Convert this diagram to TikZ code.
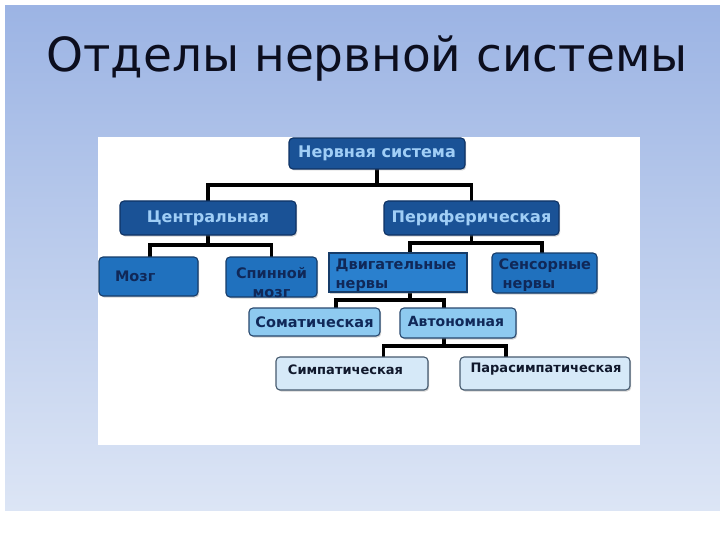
\documentclass[tikz,border=0pt]{standalone}
\usepackage{fontspec}
\setmainfont{DejaVu Sans}
\usetikzlibrary{calc,shadows}
\pgfdeclarelayer{bg}
\pgfdeclarelayer{lines}
\pgfsetlayers{bg,lines,main}
\definecolor{bgtop}{RGB}{156,180,228}
\definecolor{bgbot}{RGB}{220,229,245}
\definecolor{dkfill}{RGB}{26,82,150}
\definecolor{dkline}{RGB}{14,50,100}
\definecolor{dktext}{RGB}{160,206,246}
\definecolor{mdfill}{RGB}{32,113,190}
\definecolor{dvfill}{RGB}{42,128,206}
\definecolor{mdline}{RGB}{22,60,105}
\definecolor{navy}{RGB}{16,40,88}
\definecolor{ltfill}{RGB}{142,202,240}
\definecolor{ltline}{RGB}{40,72,110}
\definecolor{vlfill}{RGB}{214,233,248}
\definecolor{vlline}{RGB}{70,90,110}
\definecolor{vltext}{RGB}{16,24,44}
\definecolor{titletext}{RGB}{12,14,30}
\tikzset{
  boxbase/.style={inner sep=0pt, font=\bfseries, line width=1.1pt,
    drop shadow={shadow xshift=1.2pt, shadow yshift=-1.5pt, opacity=0.35}},
  dkbox/.style={boxbase, rounded corners=4pt, fill=dkfill, draw=dkline, text=dktext,
    font=\fontsize{16}{19}\selectfont\bfseries},
  mdbox/.style={boxbase, rounded corners=4pt, fill=mdfill, draw=mdline, text=navy,
    font=\fontsize{14.5}{19}\selectfont\bfseries},
  dvbox/.style={boxbase, fill=dvfill, draw=mdline, text=navy,
    font=\fontsize{14.5}{18}\selectfont\bfseries},
  ltbox/.style={boxbase, rounded corners=4pt, fill=ltfill, draw=ltline, text=navy,
    font=\fontsize{14.5}{18}\selectfont\bfseries},
  vlbox/.style={boxbase, rounded corners=4pt, fill=vlfill, draw=vlline, text=vltext,
    font=\fontsize{13}{16}\selectfont\bfseries},
  txt/.style={inner sep=0pt, text=navy, font=\fontsize{14.5}{18.5}\selectfont\bfseries},
  conn/.style={line width=3.2pt, black, line cap=rect}
}
\begin{document}
\begin{tikzpicture}[x=1pt,y=-1pt]
\useasboundingbox (0,0) rectangle (720,540);
\begin{pgfonlayer}{bg}
\fill[white] (0,0) rectangle (720,540);
\shade[top color=bgtop, bottom color=bgbot] (5,6) rectangle (720,510);
\fill[white] (98,137) rectangle (640,445);
\end{pgfonlayer}
\node[inner sep=0pt, font=\fontsize{47}{50}\selectfont, text=titletext] (title) at (367,59) {Отделы нервной системы};

% junction points
\coordinate (j1) at (377,185);
\coordinate (j2) at (208,245);
\coordinate (j3) at (471.5,243);
\coordinate (j4) at (410,300);
\coordinate (j5) at (444,346);

% level 1
\node[dkbox, minimum width=176pt, minimum height=31pt] (ns) at (377,153.5) {Нервная система};
% level 2
\node[dkbox, minimum width=176pt, minimum height=34pt] (cen) at (208,218) {Центральная};
\node[dkbox, minimum width=175pt, minimum height=34pt] (per) at (471.5,218) {Периферическая};
% level 3
\node[mdbox, minimum width=99pt, minimum height=39pt, text width=67pt, align=left] (moz) at (148.5,276.5) {Мозг};
\node[mdbox, minimum width=91pt, minimum height=40pt] (spm) at (271.5,277) {};
\node[txt, align=center] (spmt) at ($(spm.center)+(0,5.5)$) {Спинной\\мозг};
\node[dvbox, minimum width=138pt, minimum height=39pt] (dvn) at (398,272.5) {};
\node[txt, align=left, anchor=west] (dvnt) at ($(dvn.west)+(7,2.5)$) {Двигательные\\нервы};
\node[mdbox, minimum width=105pt, minimum height=40pt] (sen) at (544.5,273) {};
\node[txt, align=left, anchor=west] (sent) at ($(sen.west)+(7,2)$) {Сенсорные\\\hspace*{4pt}нервы};
% level 4
\node[ltbox, minimum width=131pt, minimum height=28pt] (som) at (314.5,322) {Соматическая};
\node[ltbox, minimum width=116pt, minimum height=30pt] (avt) at (458,323) {};
\node[txt, font=\fontsize{14}{18}\selectfont\bfseries] (avtt) at ($(avt.center)+(-2,-2)$) {Автономная};
% level 5
\node[vlbox, minimum width=152pt, minimum height=33pt] (sym) at (352,373.5) {};
\node[txt, text=vltext, font=\fontsize{13}{16}\selectfont\bfseries] (symt) at ($(sym.center)+(-6.5,-3.5)$) {Симпатическая};
\node[vlbox, minimum width=170pt, minimum height=33pt] (par) at (545,373.5) {};
\node[txt, text=vltext, font=\fontsize{13}{16}\selectfont\bfseries] (part) at ($(par.center)+(1,-4.5)$) {Парасимпатическая};

% connectors (under the boxes)
\begin{pgfonlayer}{lines}
\draw[conn] (ns.south) -- (j1);
\draw[conn] (cen.north) |- (j1) -| (per.north);
\draw[conn] (cen.south) -- (j2);
\draw[conn] ($(moz.north)+(1.5,0)$) |- (j2) -| (spm.north);
\draw[conn] (per.south) -- (j3);
\draw[conn] ($(dvn.north)+(12,0)$) |- (j3) -| ($(sen.north)+(-2.5,0)$);
\draw[conn] ($(dvn.south)+(12,0)$) -- (j4);
\draw[conn] ($(som.north)+(21.5,0)$) |- (j4) -| ($(avt.north)+(-14,0)$);
\draw[conn] ($(avt.south)+(-14,0)$) -- (j5);
\draw[conn] ($(sym.north)+(31.6,0)$) |- (j5) -| ($(par.north)+(-39,0)$);
\end{pgfonlayer}
\end{tikzpicture}
\end{document}
